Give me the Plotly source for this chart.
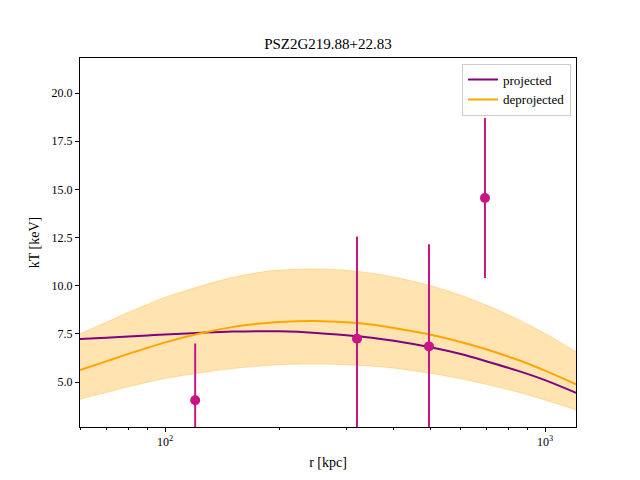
import plotly.graph_objects as go

# Data points
r_pts = [120, 320, 495, 695]
kt_pts = [4.05, 7.25, 6.85, 14.55]
kt_err = [2.95, 5.3, 5.3, 4.15]

# Model curves
r_grid = [59.7, 70, 80, 90, 100, 125, 150, 175, 200, 250, 300, 350, 400, 500, 600, 700, 850, 1000, 1207]
kt_proj = [7.23, 7.3, 7.36, 7.415, 7.47, 7.56, 7.62, 7.64, 7.63, 7.55, 7.43, 7.3, 7.14,
           6.8, 6.45, 6.08, 5.58, 5.1, 4.44]
kt_deproj = [5.62, 6.07, 6.46, 6.78, 7.06, 7.54, 7.85, 8.02, 8.12, 8.17, 8.1, 7.98, 7.8,
             7.45, 7.08, 6.7, 6.14, 5.59, 4.88]
kt_upper = [7.5, 8.1, 8.62, 9.04, 9.4, 10.0, 10.42, 10.68, 10.81, 10.87, 10.8, 10.65, 10.45,
            10.0, 9.51, 9.0, 8.25, 7.52, 6.57]
kt_lower = [4.1, 4.45, 4.75, 4.99, 5.18, 5.49, 5.7, 5.82, 5.9, 5.93, 5.9, 5.82, 5.72,
            5.45, 5.17, 4.88, 4.47, 4.07, 3.55]

title = "PSZ2G219.88+22.83"
font_family = "Liberation Serif, DejaVu Serif, serif"

fig = go.Figure()

fig.add_trace(go.Scatter(x=r_grid, y=kt_lower, mode="lines",
                         line=dict(color="rgba(255,165,0,0.3)", width=1, shape="spline"),
                         showlegend=False, hoverinfo="skip"))
fig.add_trace(go.Scatter(x=r_grid, y=kt_upper, mode="lines", fill="tonexty",
                         fillcolor="rgba(255,165,0,0.3)",
                         line=dict(color="rgba(255,165,0,0.3)", width=1, shape="spline"),
                         showlegend=False, hoverinfo="skip"))
fig.add_trace(go.Scatter(x=r_grid, y=kt_proj, mode="lines", name="projected",
                         line=dict(color="purple", width=2, shape="spline")))
fig.add_trace(go.Scatter(x=r_grid, y=kt_deproj, mode="lines", name="deprojected",
                         line=dict(color="orange", width=2, shape="spline")))
fig.add_trace(go.Scatter(x=r_pts, y=kt_pts, mode="markers", showlegend=False,
                         marker=dict(color="mediumvioletred", size=10),
                         error_y=dict(type="data", array=kt_err, color="mediumvioletred",
                                      thickness=2, width=0)))

fig.update_layout(
    width=640, height=480,
    margin=dict(l=80, r=64, t=58, b=53),
    paper_bgcolor="white", plot_bgcolor="white",
    font=dict(family=font_family, size=12, color="black"),
    title=dict(text=title, x=(80 + 576) / 2 / 640, xanchor="center",
               y=1 - 44 / 480, yanchor="middle", font=dict(size=15)),
    legend=dict(x=0.99, y=0.985, xanchor="right", yanchor="top", traceorder="normal",
                bgcolor="rgba(255,255,255,0.8)", bordercolor="#cccccc", borderwidth=1,
                font=dict(size=13), tracegroupgap=0),
)

fig.update_xaxes(type="log", range=[1.776, 3.0816],
                 tickvals=[100, 1000], ticktext=["10<sup>2</sup>", "10<sup>3</sup>"],
                 ticks="outside", ticklen=4, tickcolor="black",
                 minor=dict(tickvals=[60, 70, 80, 90, 200, 300, 400, 500, 600, 700, 800, 900],
                            ticks="outside", ticklen=2, tickcolor="black"),
                 showline=True, linecolor="black", linewidth=1, mirror=True,
                 showgrid=False, zeroline=False,
                 title=dict(text="r [kpc]", standoff=8), tickfont=dict(size=12))
fig.update_yaxes(range=[2.665, 21.82], tickvals=[5, 7.5, 10, 12.5, 15, 17.5, 20],
                 ticktext=["5.0", "7.5", "10.0", "12.5", "15.0", "17.5", "20.0"],
                 ticks="outside", ticklen=4, tickcolor="black",
                 showline=True, linecolor="black", linewidth=1, mirror=True,
                 showgrid=False, zeroline=False,
                 title=dict(text="kT [keV]", standoff=8), tickfont=dict(size=12))

fig.write_html("out.html")
